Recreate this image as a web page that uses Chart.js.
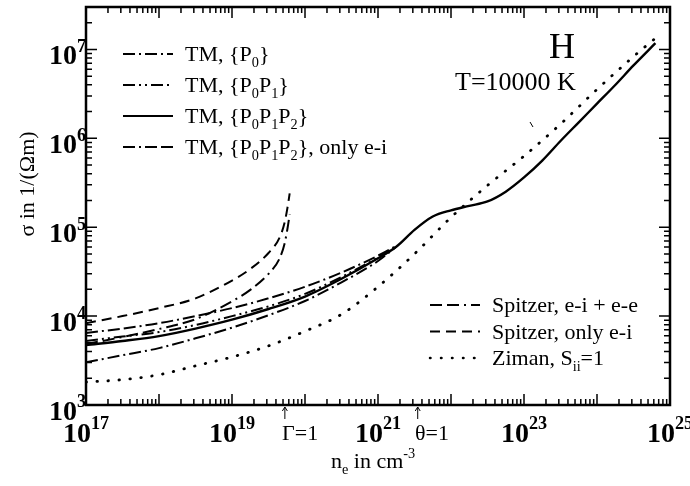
<!DOCTYPE html>
<html>
<head>
<meta charset="utf-8">
<script src="https://cdn.jsdelivr.net/npm/chart.js@4.4.1/dist/chart.umd.min.js"></script>
<style>
  body { margin: 0; background: #fff; }
  canvas { display: block; }
</style>
</head>
<body>
<canvas id="grafico" width="690" height="486"></canvas>
<script>
// log10 of n_e (cm^-3) and log10 of sigma (1/(Ohm m))
const logNeTM = [17.0, 17.5, 18.0, 18.5, 19.0, 19.5, 20.0, 20.5, 21.0, 21.25];
const logSigmaP0 = [3.48, 3.56, 3.64, 3.75, 3.87, 4.01, 4.17, 4.38, 4.62, 4.78];
const logSigmaP0P1 = [3.72, 3.77, 3.82, 3.90, 4.00, 4.11, 4.25, 4.44, 4.66, 4.785];
const logSigmaOnlyEI = [3.81, 3.86, 3.92, 4.00, 4.09, 4.20, 4.33, 4.49, 4.68, 4.79];

const logNeFull = [17.0, 17.5, 18.0, 18.5, 19.0, 19.5, 20.0, 20.5, 21.0, 21.25, 21.5, 21.75,
  22.0, 22.25, 22.5, 22.75, 23.0, 23.25, 23.5, 23.75, 24.0, 24.25, 24.5, 24.8];
const logSigmaP0P1P2 = [3.675, 3.72, 3.775, 3.86, 3.96, 4.08, 4.22, 4.42, 4.65, 4.78, 4.97, 5.12,
  5.19, 5.24, 5.29, 5.40, 5.56, 5.75, 5.97, 6.18, 6.39, 6.60, 6.82, 7.07];

const logNeSpitzer = [17.0, 17.5, 18.0, 18.5, 19.0, 19.25, 19.5, 19.65, 19.72, 19.76, 19.79];
const logSigmaSpitzerEiEe = [3.685, 3.765, 3.855, 3.965, 4.165, 4.295, 4.475, 4.645, 4.815, 4.985, 5.145];
const logSigmaSpitzerEi = [3.92, 4.00, 4.09, 4.20, 4.40, 4.53, 4.71, 4.88, 5.05, 5.22, 5.38];

const logNeZiman = [17.0, 17.5, 18.0, 18.5, 19.0, 19.5, 20.0, 20.5, 21.0, 21.5, 22.0, 22.5,
  23.0, 23.5, 24.0, 24.5, 24.85];
const logSigmaZiman = [3.258, 3.285, 3.34, 3.44, 3.54, 3.665, 3.83, 4.02, 4.33, 4.70, 5.11, 5.47,
  5.80, 6.16, 6.55, 6.92, 7.16];

// axis decades
const decadasX = [17, 18, 19, 20, 21, 22, 23, 24, 25];
const decadasY = [3, 4, 5, 6, 7];
const rotulosX = [17, 19, 21, 23, 25];

const SERIF = "'Liberation Serif', 'Times New Roman', serif";

// line styles
const estilos = {
  p0: [12, 4, 2, 4],
  p0p1: [12, 4, 2, 4, 2, 4],
  solido: [],
  soEI: [12, 4, 2, 4, 12, 4],
  spitzerEE: [12, 5, 12, 5, 2, 5],
  spitzerEI: [10, 6],
  ziman: [0.5, 10.5]
};

function pontos(xs, ys) {
  return xs.map((v, i) => ({ x: Math.pow(10, v), y: Math.pow(10, ys[i]) }));
}

function serie(label, xs, ys, dash, width) {
  return {
    label: label,
    data: pontos(xs, ys),
    borderColor: '#000',
    borderWidth: width || 2,
    borderDash: dash,
    borderCapStyle: dash === estilos.ziman ? 'round' : 'butt',
    pointRadius: 0,
    fill: false,
    cubicInterpolationMode: 'monotone'
  };
}

// text with sub/superscripts: parts = [[text, 'sub'|'sup'|null], ...]
function textoRico(ctx, partes, x, y, tam, peso) {
  let cx = x;
  partes.forEach(([t, tipo]) => {
    let s = tam, dy = 0;
    if (tipo === 'sub') { s = tam * 0.65; dy = tam * 0.28; }
    if (tipo === 'sup') { s = tam * 0.65; dy = -tam * 0.45; }
    ctx.font = (peso || '') + ' ' + s + 'px ' + SERIF;
    ctx.fillText(t, cx, y + dy);
    cx += ctx.measureText(t).width;
  });
  return cx - x;
}

function larguraRica(ctx, partes, tam, peso) {
  let w = 0;
  partes.forEach(([t, tipo]) => {
    const s = tipo ? tam * 0.65 : tam;
    ctx.font = (peso || '') + ' ' + s + 'px ' + SERIF;
    w += ctx.measureText(t).width;
  });
  return w;
}

const legendaTM = [
  { dash: estilos.p0, texto: [['TM, {P'], ['0', 'sub'], ['}']] },
  { dash: estilos.p0p1, texto: [['TM, {P'], ['0', 'sub'], ['P'], ['1', 'sub'], ['}']] },
  { dash: estilos.solido, texto: [['TM, {P'], ['0', 'sub'], ['P'], ['1', 'sub'], ['P'], ['2', 'sub'], ['}']] },
  { dash: estilos.soEI, texto: [['TM, {P'], ['0', 'sub'], ['P'], ['1', 'sub'], ['P'], ['2', 'sub'], ['}, only e-i']] }
];
const legendaSpitzer = [
  { dash: estilos.spitzerEE, texto: [['Spitzer, e-i + e-e']] },
  { dash: estilos.spitzerEI, texto: [['Spitzer, only e-i']] },
  { dash: estilos.ziman, texto: [['Ziman, S'], ['ii', 'sub'], ['=1']] }
];

function desenhaLegenda(ctx, itens, x0, x1, xt, y0, passo) {
  itens.forEach((it, i) => {
    const y = y0 + i * passo;
    ctx.save();
    ctx.setLineDash(it.dash);
    const pontilhado = it.dash === estilos.ziman;
    ctx.lineWidth = pontilhado ? 2.5 : 2;
    ctx.lineCap = pontilhado ? 'round' : 'butt';
    ctx.beginPath();
    ctx.moveTo(x0, y);
    ctx.lineTo(x1, y);
    ctx.stroke();
    ctx.restore();
    textoRico(ctx, it.texto, xt, y + 7, 22);
  });
}

function seta(ctx, x, yBase, yPonta) {
  ctx.beginPath();
  ctx.moveTo(x, yBase);
  ctx.lineTo(x, yPonta);
  ctx.moveTo(x - 2.5, yPonta + 4);
  ctx.lineTo(x, yPonta);
  ctx.lineTo(x + 2.5, yPonta + 4);
  ctx.stroke();
}

const eixos = {
  id: 'eixos',
  afterDraw(chart) {
    const ctx = chart.ctx;
    const { left, right, top, bottom } = chart.chartArea;
    const sx = chart.scales.x, sy = chart.scales.y;
    ctx.save();
    ctx.fillStyle = '#000';
    ctx.strokeStyle = '#000';

    // ticks on all four sides, pointing inward
    ctx.lineWidth = 1.5;
    ctx.beginPath();
    decadasX.forEach(d => {
      for (let m = 1; m <= 9; m++) {
        if (d === 25 && m > 1) break;
        const px = sx.getPixelForValue(m * Math.pow(10, d));
        const len = m === 1 ? 11 : 6;
        ctx.moveTo(px, bottom); ctx.lineTo(px, bottom - len);
        ctx.moveTo(px, top); ctx.lineTo(px, top + len);
      }
    });
    decadasY.forEach(d => {
      for (let m = 1; m <= 9; m++) {
        const v = m * Math.pow(10, d);
        if (v > sy.max) break;
        const py = sy.getPixelForValue(v);
        const len = m === 1 ? 11 : 6;
        ctx.moveTo(left, py); ctx.lineTo(left + len, py);
        ctx.moveTo(right, py); ctx.lineTo(right - len, py);
      }
    });
    ctx.stroke();

    // frame
    ctx.lineWidth = 2.5;
    ctx.strokeRect(left, top, right - left, bottom - top);

    // tick labels
    ctx.textBaseline = 'alphabetic';
    ctx.textAlign = 'left';
    rotulosX.forEach(d => {
      const partes = [['10'], [String(d), 'sup']];
      const w = larguraRica(ctx, partes, 28, 'bold');
      const px = sx.getPixelForValue(Math.pow(10, d));
      textoRico(ctx, partes, px - w / 2, 442, 28, 'bold');
    });
    decadasY.forEach(d => {
      const partes = [['10'], [String(d), 'sup']];
      const w = larguraRica(ctx, partes, 28, 'bold');
      const py = sy.getPixelForValue(Math.pow(10, d));
      textoRico(ctx, partes, 86 - w, py + 15, 28, 'bold');
    });

    // axis titles
    ctx.save();
    ctx.translate(34, 184);
    ctx.rotate(-Math.PI / 2);
    ctx.font = '22px ' + SERIF;
    ctx.textAlign = 'center';
    ctx.fillText('σ in 1/(Ωm)', 0, 0);
    ctx.restore();
    textoRico(ctx, [['n'], ['e', 'sub'], [' in cm'], ['-3', 'sup']], 331, 468, 22);

    // markers below the axis
    ctx.lineWidth = 1;
    seta(ctx, sx.getPixelForValue(5.3e19), 419, 407);
    seta(ctx, sx.getPixelForValue(3.5e21), 419, 407);
    ctx.font = '22px ' + SERIF;
    ctx.fillText('Γ=1', 282, 440);
    ctx.fillText('θ=1', 415, 440);

    // element and temperature
    ctx.font = '36px ' + SERIF;
    ctx.fillText('H', 549, 58);
    ctx.font = '26px ' + SERIF;
    ctx.fillText('T=10000 K', 455, 90);
    ctx.beginPath();
    ctx.moveTo(530, 122);
    ctx.lineTo(533, 127);
    ctx.stroke();

    // legends
    desenhaLegenda(ctx, legendaTM, 123, 173, 185, 54, 31);
    desenhaLegenda(ctx, legendaSpitzer, 430, 480, 492, 305, 26.5);
    ctx.restore();
  }
};

const grafico = new Chart(document.getElementById('grafico').getContext('2d'), {
  type: 'line',
  data: {
    datasets: [
      serie('Ziman, Sii=1', logNeZiman, logSigmaZiman, estilos.ziman, 2.8),
      serie('Spitzer, only e-i', logNeSpitzer, logSigmaSpitzerEi, estilos.spitzerEI),
      serie('Spitzer, e-i + e-e', logNeSpitzer, logSigmaSpitzerEiEe, estilos.spitzerEE),
      serie('TM, {P0}', logNeTM, logSigmaP0, estilos.p0),
      serie('TM, {P0P1}', logNeTM, logSigmaP0P1, estilos.p0p1),
      serie('TM, {P0P1P2}, only e-i', logNeTM, logSigmaOnlyEI, estilos.soEI),
      serie('TM, {P0P1P2}', logNeFull, logSigmaP0P1P2, estilos.solido, 2.4)
    ]
  },
  options: {
    responsive: false,
    animation: false,
    layout: { padding: { left: 86, right: 20, top: 7, bottom: 81 } },
    plugins: {
      legend: { display: false },
      tooltip: { enabled: false }
    },
    scales: {
      x: { type: 'logarithmic', min: 1e17, max: 1e25, display: false },
      y: { type: 'logarithmic', min: 1e3, max: 3e7, display: false }
    }
  },
  plugins: [eixos]
});
</script>
</body>
</html>
